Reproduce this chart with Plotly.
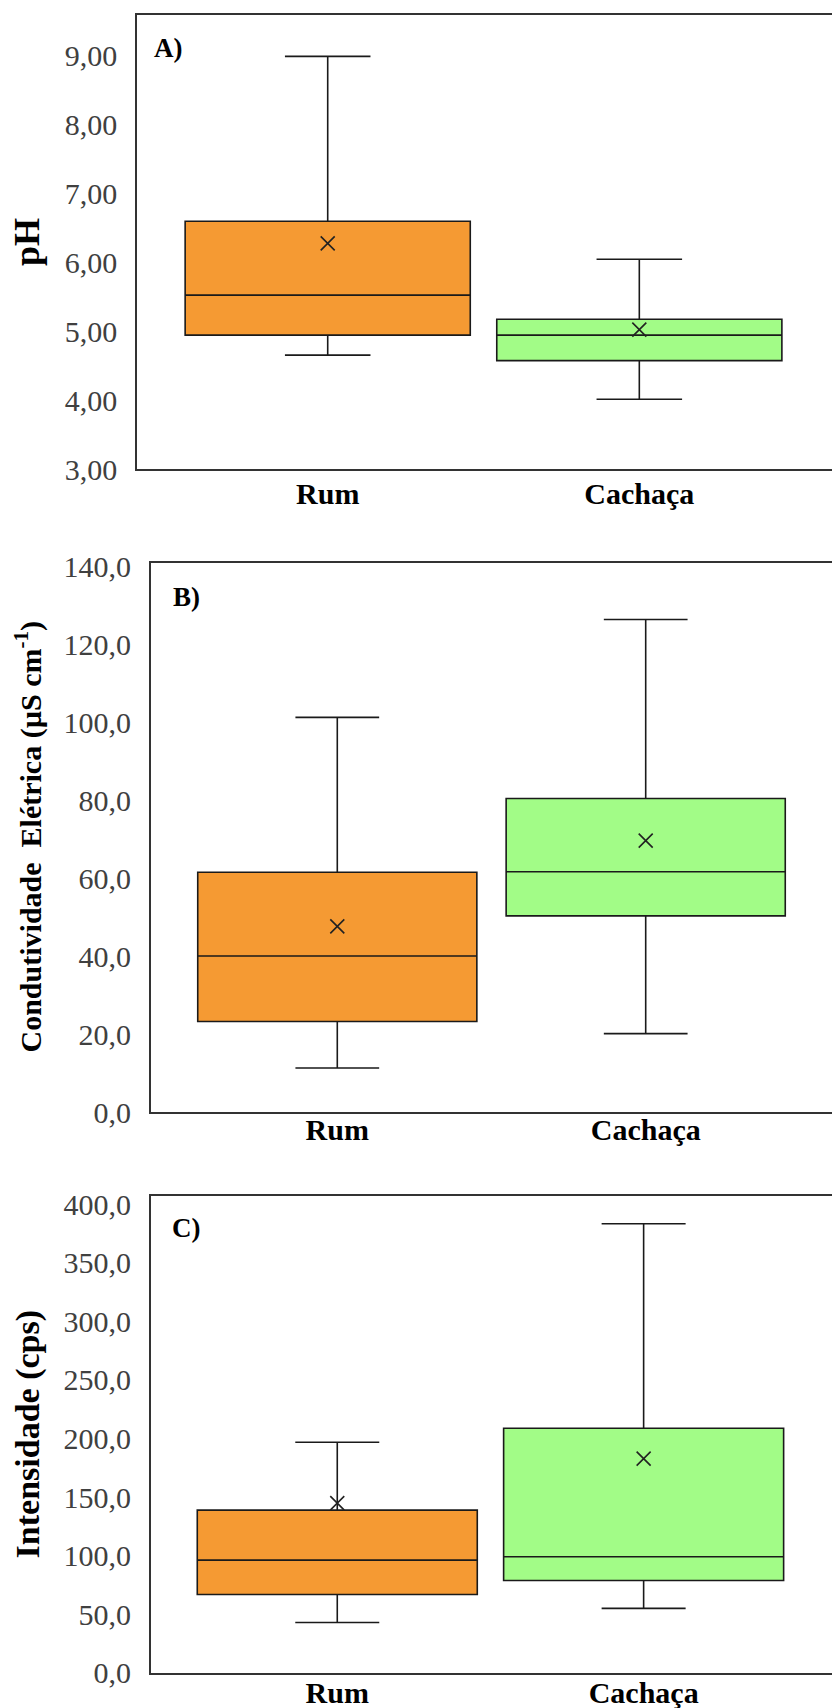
import plotly.graph_objects as go

# The page body has an 8px margin, so the figure is drawn 8px in from the
# window corner; positions below are window pixels minus that offset.
OFF = 8
W, H = 840 - OFF, 1708 - OFF

categories = ["Rum", "Cachaça"]

# Panel A - pH
ph_min = [4.65, 4.01]
ph_q1 = [4.94, 4.57]
ph_median = [5.52, 4.94]
ph_q3 = [6.59, 5.17]
ph_max = [8.98, 6.04]
ph_mean = [6.27, 5.02]

# Panel B - Condutividade elétrica
cond_min = [11.3, 20.1]
cond_q1 = [23.2, 50.3]
cond_median = [40.0, 61.6]
cond_q3 = [61.5, 80.4]
cond_max = [101.2, 126.3]
cond_mean = [47.6, 69.6]

# Panel C - Intensidade
int_min = [43.0, 55.0]
int_q1 = [66.9, 78.8]
int_median = [96.2, 99.1]
int_q3 = [138.9, 208.7]
int_max = [196.8, 383.3]
int_mean = [144.8, 182.8]

colors = ["#F59A33", "#A2FC87"]

panels = [
    dict(mins=ph_min, q1=ph_q1, med=ph_median, q3=ph_q3, maxs=ph_max, mean=ph_mean,
         left=137, top=15, bottom=469, yrange=[3, 9.58], dtick=1, fmt=".2f",
         xrange=[-0.612, 1.644], width=0.915, label="A)", lab_x=152, lab_y=48,
         title="pH", tsize=36, tx=27, xstand=-3),
    dict(mins=cond_min, q1=cond_q1, med=cond_median, q3=cond_q3, maxs=cond_max, mean=cond_mean,
         left=150.7, top=563, bottom=1112, yrange=[0, 140.8], dtick=20, fmt=".1f",
         xrange=[-0.605, 1.630], width=0.905, label="B)", lab_x=171, lab_y=597,
         title="Condutividade  Elétrica (µS cm<sup>-1</sup>)", tsize=30, tx=29, xstand=-10),
    dict(mins=int_min, q1=int_q1, med=int_median, q3=int_q3, maxs=int_max, mean=int_mean,
         left=150.7, top=1196, bottom=1672.8, yrange=[0, 407], dtick=50, fmt=".1f",
         xrange=[-0.609, 1.641], width=0.914, label="C)", lab_x=170, lab_y=1228,
         title="Intensidade (cps)", tsize=34, tx=28, xstand=-8),
]

fig = go.Figure()
annotations = []
layout_axes = {}
serif = "Liberation Serif, Times New Roman, serif"


def px(v):
    return (v - OFF) / W


def py(v):
    return 1 - (v - OFF) / H


for i, p in enumerate(panels):
    n = "" if i == 0 else str(i + 1)
    xa, ya = "x" + n, "y" + n
    for j, cat in enumerate(categories):
        fig.add_trace(go.Box(
            x=[cat], q1=[p["q1"][j]], median=[p["med"][j]], q3=[p["q3"][j]],
            lowerfence=[p["mins"][j]], upperfence=[p["maxs"][j]],
            fillcolor=colors[j], line=dict(color="#1a1a1a", width=1.6),
            width=p["width"], whiskerwidth=0.3, boxpoints=False,
            xaxis=xa, yaxis=ya, showlegend=False, hoverinfo="skip"))
    fig.add_trace(go.Scatter(
        x=categories, y=p["mean"], mode="markers",
        marker=dict(symbol="x-thin", size=14, line=dict(color="#222", width=1.6)),
        xaxis=xa, yaxis=ya, showlegend=False, hoverinfo="skip"))

    layout_axes["xaxis" + n] = dict(
        domain=[px(p["left"]), 1], anchor=ya, range=p["xrange"],
        type="category", categoryorder="array", categoryarray=categories,
        showline=True, mirror=True, linecolor="#333", linewidth=1.6,
        showgrid=False, zeroline=False, ticks="", ticklabelstandoff=p["xstand"],
        tickfont=dict(family=serif, size=30, color="black", weight="bold"),
        automargin=False, fixedrange=True)
    layout_axes["yaxis" + n] = dict(
        domain=[py(p["bottom"]), py(p["top"])], anchor=xa, range=p["yrange"],
        dtick=p["dtick"], tick0=0,
        tickformat=p["fmt"], showline=True, mirror=False, linecolor="#333",
        linewidth=1.6, showgrid=False, zeroline=False, ticks="",
        ticklabelstandoff=12,
        tickfont=dict(family=serif, size=30, color="#404040"),
        automargin=False, fixedrange=True)
    annotations.append(dict(
        text=p["label"], x=px(p["lab_x"]), y=py(p["lab_y"]), xref="paper", yref="paper",
        xanchor="left", yanchor="middle", showarrow=False,
        font=dict(family=serif, size=27, color="black", weight="bold")))
    annotations.append(dict(
        text=p["title"], x=px(p["tx"]), y=py((p["top"] + p["bottom"]) / 2),
        xref="paper", yref="paper", xanchor="center", yanchor="middle",
        textangle=-90, showarrow=False,
        font=dict(family=serif, size=p["tsize"], color="black", weight="bold")))

fig.update_layout(
    width=W, height=H, margin=dict(l=0, r=0, t=0, b=0),
    paper_bgcolor="white", plot_bgcolor="white", separators=", ",
    annotations=annotations, **layout_axes)

fig.write_html("out.html")
